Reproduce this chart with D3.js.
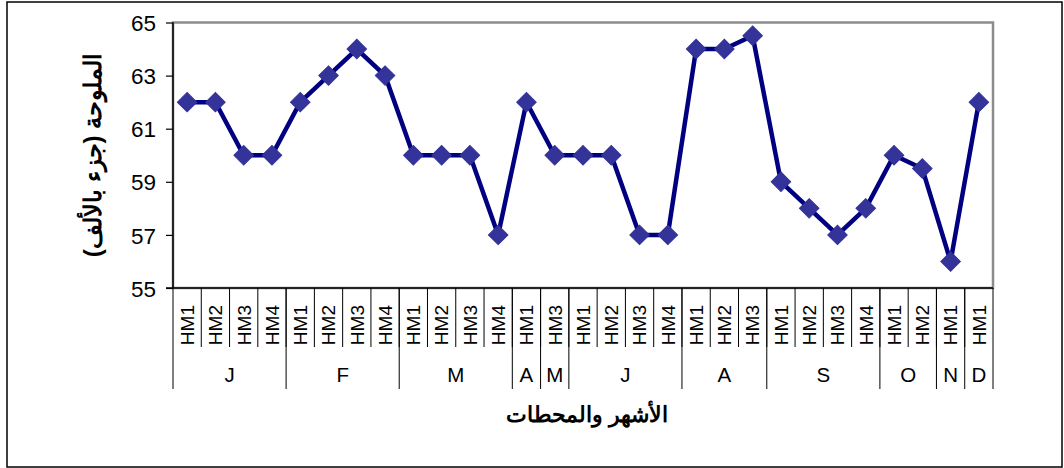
<!DOCTYPE html>
<html>
<head>
<meta charset="utf-8">
<script src="https://cdn.jsdelivr.net/npm/d3@7"></script>
<style>
  body { margin: 0; background: #fff; }
  svg text { font-family: Arial, "Liberation Sans", sans-serif; fill: #000; }
</style>
</head>
<body>
<svg id="chart" width="1064" height="468"></svg>
<script>
// months in order along the x axis, and the stations sampled in each
const monthNames = ["J", "F", "M", "A", "M", "J", "A", "S", "O", "N", "D"];
const monthStations = [
  ["HM1", "HM2", "HM3", "HM4"],
  ["HM1", "HM2", "HM3", "HM4"],
  ["HM1", "HM2", "HM3", "HM4"],
  ["HM1"],
  ["HM3"],
  ["HM1", "HM2", "HM3", "HM4"],
  ["HM1", "HM2", "HM3"],
  ["HM1", "HM2", "HM3", "HM4"],
  ["HM1", "HM2"],
  ["HM1"],
  ["HM1"]
];
// salinity (ppt), one value per station above
const salinity = [
  62, 62, 60, 60,
  62, 63, 64, 63,
  60, 60, 60, 57,
  62,
  60,
  60, 60, 57, 57,
  64, 64, 64.5,
  59, 58, 57, 58,
  60, 59.5,
  56,
  62
];
const yTicks = [55, 57, 59, 61, 63, 65];
const yTitle = "الملوحة (جزء بالألف)";
const xTitle = "الأشهر والمحطات";

// flatten months/stations into one list of categories
var cats = [];
var groups = [];
monthStations.forEach(function(list, m) {
  var start = cats.length;
  list.forEach(function(s) {
    cats.push({ id: cats.length, month: m, station: s, value: salinity[cats.length] });
  });
  groups.push({ name: monthNames[m], first: start, last: cats.length - 1 });
});

var svg = d3.select("#chart");
var plotLeft = 173, plotRight = 993, plotTop = 22.5, plotBottom = 288;

var x = d3.scaleBand()
  .domain(cats.map(function(d) { return d.id; }))
  .range([plotLeft, plotRight])
  .padding(0);

var y = d3.scaleLinear()
  .domain([55, 65])
  .range([plotBottom, plotTop]);

// outer chart frame
svg.append("rect")
  .attr("x", 7).attr("y", 2)
  .attr("width", 1055).attr("height", 465)
  .attr("fill", "none")
  .attr("stroke", "#000")
  .attr("stroke-width", 1.5);

// plot area border
svg.append("rect")
  .attr("x", plotLeft).attr("y", plotTop)
  .attr("width", plotRight - plotLeft).attr("height", plotBottom - plotTop)
  .attr("fill", "#fff")
  .attr("stroke", "#8c8c8c")
  .attr("stroke-width", 2.5);

// y axis
var yAxis = svg.append("g")
  .attr("transform", "translate(" + plotLeft + ",0)")
  .call(d3.axisLeft(y).tickValues(yTicks).tickSize(7).tickPadding(10).tickFormat(d3.format("d")));
yAxis.select(".domain").remove();
yAxis.selectAll(".tick line").attr("stroke", "#000").attr("stroke-width", 1.2);
yAxis.selectAll(".tick text")
  .style("font-size", "22.5px")
  .attr("dy", "0.36em");

svg.append("line")
  .attr("x1", plotLeft).attr("x2", plotLeft)
  .attr("y1", plotTop).attr("y2", plotBottom)
  .attr("stroke", "#000").attr("stroke-width", 1.5);

// x axis line
svg.append("line")
  .attr("x1", plotLeft - 7).attr("x2", plotRight)
  .attr("y1", plotBottom).attr("y2", plotBottom)
  .attr("stroke", "#000").attr("stroke-width", 1.5);

// station separators (first tier)
var bw = x.bandwidth();
svg.append("g").selectAll("line")
  .data(cats.slice(1))
  .join("line")
  .attr("x1", function(d) { return x(d.id); })
  .attr("x2", function(d) { return x(d.id); })
  .attr("y1", plotBottom)
  .attr("y2", 347)
  .attr("stroke", "#000")
  .attr("stroke-width", 1);

// month separators (through both tiers)
var bounds = groups.map(function(g) { return x(g.first); }).concat([x(cats.length - 1) + bw]);
svg.append("g").selectAll("line")
  .data(bounds)
  .join("line")
  .attr("x1", function(d) { return d; })
  .attr("x2", function(d) { return d; })
  .attr("y1", plotBottom)
  .attr("y2", 389)
  .attr("stroke", "#000")
  .attr("stroke-width", 1);

// station labels, rotated
svg.append("g").selectAll("text")
  .data(cats)
  .join("text")
  .attr("transform", function(d) {
    return "translate(" + (x(d.id) + bw / 2) + ",305) rotate(-90)";
  })
  .attr("text-anchor", "end")
  .attr("dy", "0.36em")
  .style("font-size", "19px")
  .text(function(d) { return d.station; });

// month labels
svg.append("g").selectAll("text")
  .data(groups)
  .join("text")
  .attr("x", function(g) { return (x(g.first) + x(g.last) + bw) / 2; })
  .attr("y", 382)
  .attr("text-anchor", "middle")
  .style("font-size", "20.5px")
  .text(function(g) { return g.name; });

// the line
var line = d3.line()
  .x(function(d) { return x(d.id) + bw / 2; })
  .y(function(d) { return y(d.value); });

svg.append("path")
  .datum(cats)
  .attr("d", line)
  .attr("fill", "none")
  .attr("stroke", "#000080")
  .attr("stroke-width", 4.5)
  .attr("stroke-linejoin", "miter");

// diamond markers
var diamond = d3.symbol().type(d3.symbolSquare).size(190);
svg.append("g").selectAll("path")
  .data(cats)
  .join("path")
  .attr("transform", function(d) {
    return "translate(" + (x(d.id) + bw / 2) + "," + y(d.value) + ") rotate(45)";
  })
  .attr("d", diamond)
  .attr("fill", "#333399")
  .attr("stroke", "#333399")
  .attr("stroke-width", 1);

// axis titles
svg.append("text")
  .attr("transform", "translate(93,155) rotate(-90)")
  .attr("text-anchor", "middle")
  .attr("direction", "rtl")
  .attr("dy", "0.35em")
  .style("font-size", "24px")
  .style("font-weight", "bold")
  .text(yTitle);

svg.append("text")
  .attr("x", 587)
  .attr("y", 422)
  .attr("text-anchor", "middle")
  .attr("direction", "rtl")
  .style("font-size", "22px")
  .style("font-weight", "bold")
  .text(xTitle);
</script>
</body>
</html>
